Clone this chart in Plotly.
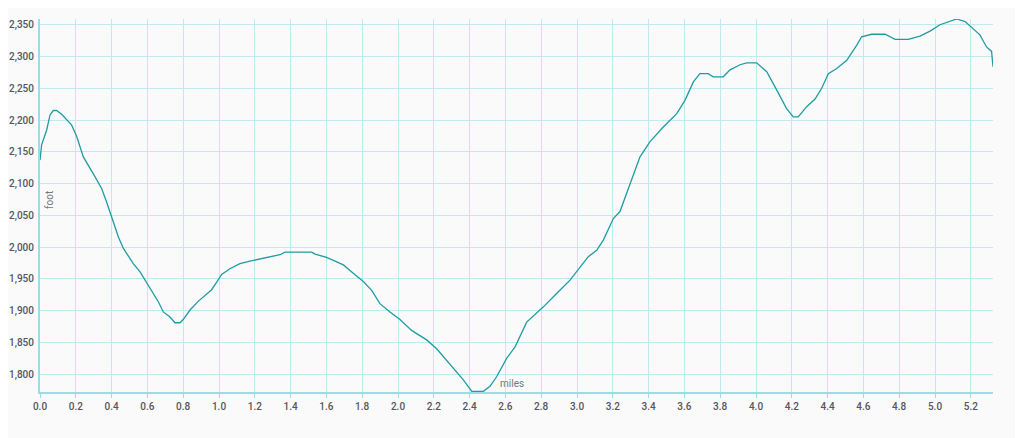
import plotly.graph_objects as go

miles = [0, 0.009, 0.037, 0.056, 0.074, 0.093, 0.121, 0.158, 0.177, 0.205, 0.242, 0.307, 0.345, 0.372, 0.40,
         0.438, 0.466, 0.484, 0.521, 0.559, 0.596, 0.633, 0.661, 0.689, 0.726, 0.754, 0.782, 0.80, 0.838, 0.885,
         0.931, 0.959, 0.987, 1.015, 1.061, 1.117, 1.173, 1.229, 1.285, 1.341, 1.369, 1.518, 1.536, 1.601, 1.648,
         1.695, 1.75, 1.806, 1.853, 1.899, 1.955, 2.011, 2.076, 2.16, 2.216, 2.272, 2.318, 2.365, 2.412, 2.477,
         2.514, 2.551, 2.607, 2.654, 2.719, 2.775, 2.812, 2.886, 2.961, 3.063, 3.11, 3.147, 3.203, 3.24, 3.296,
         3.352, 3.408, 3.482, 3.557, 3.603, 3.65, 3.687, 3.733, 3.761, 3.817, 3.855, 3.911, 3.948, 4.004, 4.06,
         4.116, 4.171, 4.208, 4.236, 4.283, 4.33, 4.367, 4.404, 4.451, 4.507, 4.563, 4.59, 4.646, 4.721, 4.777,
         4.851, 4.916, 4.972, 5.028, 5.084, 5.121, 5.168, 5.214, 5.251, 5.288, 5.316, 5.324]

elevation_ft = [2137, 2161, 2184, 2208, 2215, 2215, 2209, 2197, 2192, 2174, 2142, 2111, 2092, 2071, 2048,
                2016, 1998, 1990, 1974, 1961, 1944, 1927, 1914, 1898, 1890, 1881, 1881, 1886, 1901, 1915,
                1927, 1933, 1945, 1957, 1966, 1974, 1978, 1981, 1985, 1988, 1992, 1992, 1989, 1984, 1978,
                1972, 1959, 1946, 1932, 1911, 1898, 1886, 1869, 1854, 1840, 1822, 1806, 1791, 1773, 1773,
                1781, 1796, 1825, 1843, 1882, 1896, 1906, 1927, 1948, 1985, 1995, 2011, 2045, 2056, 2100,
                2142, 2166, 2189, 2210, 2231, 2260, 2273, 2273, 2268, 2268, 2279, 2287, 2290, 2290, 2276,
                2247, 2218, 2205, 2205, 2221, 2233, 2250, 2273, 2281, 2294, 2318, 2331, 2335, 2335, 2327,
                2327, 2332, 2340, 2350, 2356, 2359, 2355, 2344, 2334, 2315, 2308, 2284]

x_ticks = [0.0, 0.2, 0.4, 0.6, 0.8, 1.0, 1.2, 1.4, 1.6, 1.8, 2.0, 2.2, 2.4, 2.6, 2.8, 3.0, 3.2, 3.4, 3.6,
           3.8, 4.0, 4.2, 4.4, 4.6, 4.8, 5.0, 5.2]
y_ticks = [1800, 1850, 1900, 1950, 2000, 2050, 2100, 2150, 2200, 2250, 2300, 2350]

grid_col = "#bfeaf0"
axis_col = "#9edbe2"
tick_font = dict(family="Roboto", size=10, color="#55555c", weight=500)

fig = go.Figure()
fig.add_trace(go.Scatter(x=miles, y=elevation_ft, mode="lines",
                         line=dict(color="#1f9ca3", width=1.3), hoverinfo="x+y"))

fig.update_layout(
    width=1023, height=438,
    margin=dict(l=32, r=38, t=11, b=54),
    paper_bgcolor="#fafafa", plot_bgcolor="#fafafa",
    showlegend=False,
    xaxis=dict(range=[0, 5.324], tickvals=x_ticks, ticktext=[f"{v:.1f}" for v in x_ticks],
               showgrid=True, gridcolor=grid_col, gridwidth=1, zeroline=False, automargin=False,
               showline=True, linecolor=axis_col, linewidth=2,
               ticks="outside", ticklen=4, tickcolor=axis_col, tickfont=tick_font),
    yaxis=dict(range=[1772, 2359], tickvals=y_ticks, ticktext=[f"{v:,}" for v in y_ticks],
               showgrid=True, gridcolor=grid_col, gridwidth=1, zeroline=False, automargin=False,
               showline=True, linecolor=axis_col, linewidth=2, ticklabelstandoff=2,
               ticks="", tickfont=tick_font),
    annotations=[
        dict(text="foot", xref="paper", yref="paper", x=0.0105, y=0.515, xanchor="center", yanchor="middle",
             showarrow=False, textangle=-90,
             font=dict(family="Roboto", size=10, color="#777777")),
        dict(text="miles", xref="paper", yref="paper", x=0.495, y=0.022, xanchor="center", yanchor="middle",
             showarrow=False,
             font=dict(family="Roboto", size=10, color="#777777")),
    ],
)

fig.write_html("out.html")
